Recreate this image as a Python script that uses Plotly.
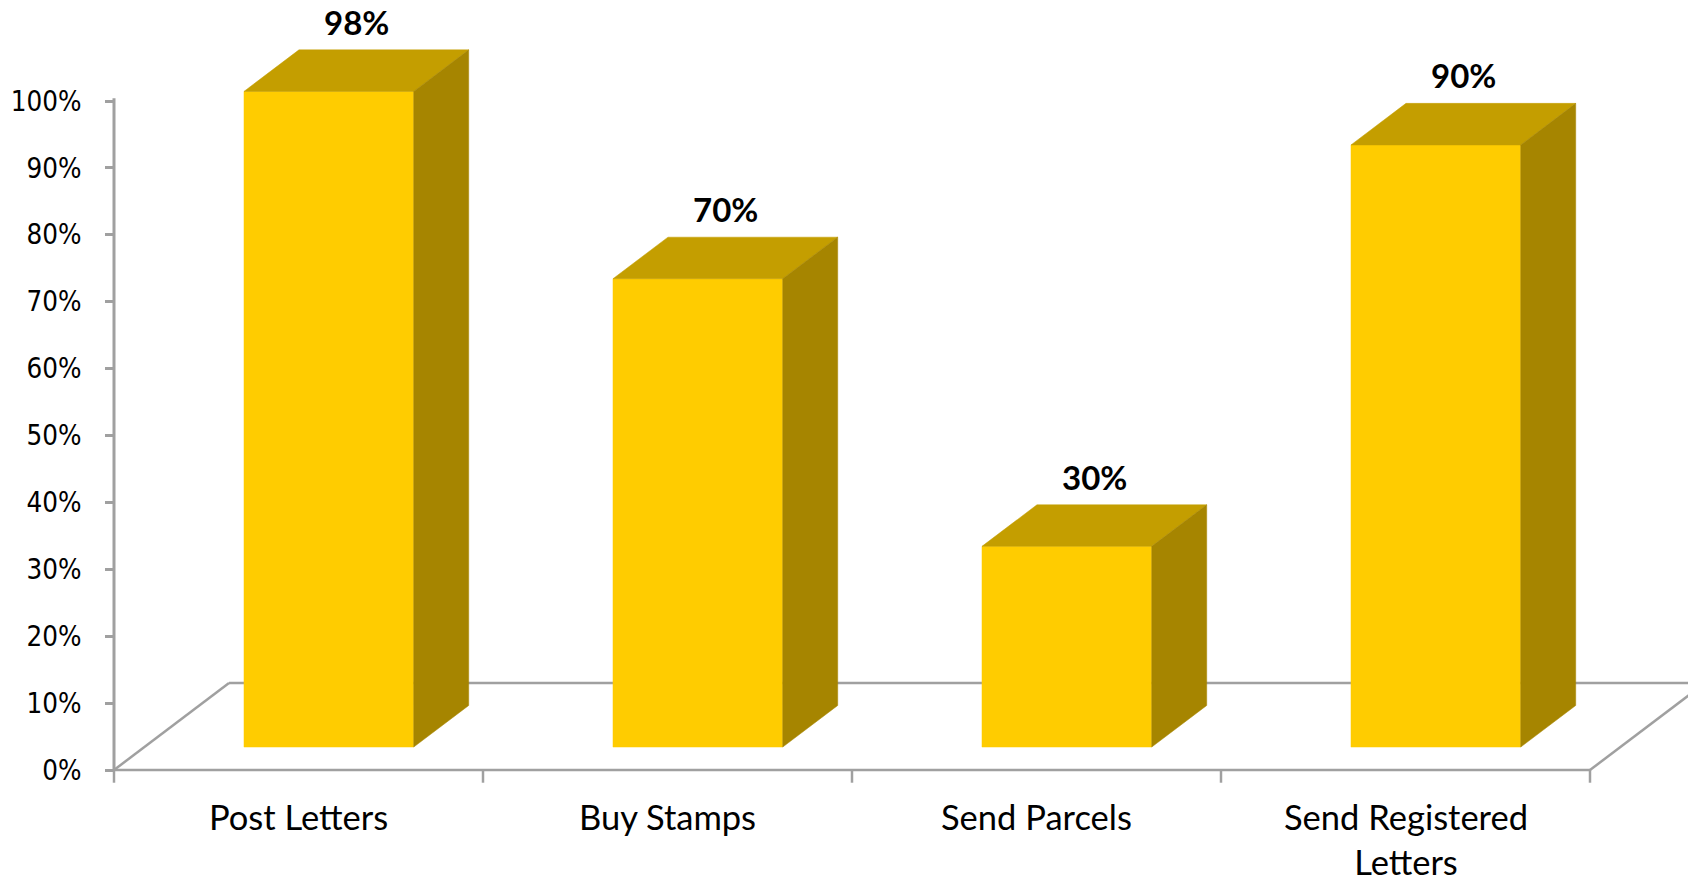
import plotly.graph_objects as go

# --- data -------------------------------------------------------------
categories = ["Post Letters", "Buy Stamps", "Send Parcels", "Send Registered<br>Letters"]
values = [98, 70, 30, 90]                 # percent
value_labels = ["98%", "70%", "30%", "90%"]
y_tick_values = [0, 10, 20, 30, 40, 50, 60, 70, 80, 90, 100]
y_tick_labels = ["0%", "10%", "20%", "30%", "40%", "50%", "60%", "70%", "80%", "90%", "100%"]

# --- pseudo-3D geometry (in axis units) -------------------------------
DX, DY = 0.3117, 13.0      # offset of the back floor edge relative to the front edge
BAR_W = 0.46               # bar width as fraction of a category slot
F0, F1 = 0.264, 0.742      # front / back depth of each bar (fraction of floor depth)

FRONT = "#FFCC00"
TOP = "#C49E00"
SIDE = "#A68500"
LINE = "#A0A0A0"

n = len(categories)
fig = go.Figure()

def seg(xs, ys, width=2.5, color=LINE):
    fig.add_trace(go.Scatter(x=xs, y=ys, mode="lines", hoverinfo="skip",
                             line=dict(color=color, width=width), showlegend=False))

# floor: front edge, back edge and the two side diagonals
seg([0, n], [0, 0])
seg([DX, n + DX], [DY, DY])
seg([0, DX], [0, DY])
seg([n, n + DX], [0, DY])
# value axis line and category tick marks
seg([0, 0], [0, 100.4], width=3)
for i in range(n + 1):
    seg([i, i], [0, -1.9], width=2.5)

def poly(xs, ys, color):
    fig.add_trace(go.Scatter(x=xs + [xs[0]], y=ys + [ys[0]], mode="lines", fill="toself",
                             fillcolor=color, line=dict(color=color, width=0.5),
                             hoverinfo="skip", showlegend=False))

for i, v in enumerate(values):
    c = i + 0.5
    xl = c - BAR_W / 2 + DX * F0
    xr = c + BAR_W / 2 + DX * F0
    yb = DY * F0
    yt = yb + v
    ddx = DX * (F1 - F0)
    ddy = DY * (F1 - F0)
    # front face
    poly([xl, xr, xr, xl], [yb, yb, yt, yt], FRONT)
    # top face
    poly([xl, xr, xr + ddx, xl + ddx], [yt, yt, yt + ddy, yt + ddy], TOP)
    # right side face
    poly([xr, xr + ddx, xr + ddx, xr], [yb, yb + ddy, yt + ddy, yt], SIDE)
    # value label above the top face
    fig.add_annotation(x=c + DX * (F0 + F1) / 2, y=yt + ddy, text=f"<b>{value_labels[i]}</b>",
                       showarrow=False, yanchor="bottom", yshift=6,
                       font=dict(family="Lato", size=33, color="#000000"))

# category labels under the floor
for i, cat in enumerate(categories):
    fig.add_annotation(x=i + 0.5, y=-3.6, text=cat, showarrow=False, yanchor="top",
                       font=dict(family="Lato", size=34.5, color="#000000"))

W, H = 1688, 883
ML = 100
AX_PX = 114          # pixel position of the value axis
CAT_PX = 369         # pixel width of one category slot
ZERO_PX = 770        # pixel row of 0%
PX_PER_UNIT = 6.69   # pixels per percent

fig.update_layout(
    width=W, height=H,
    margin=dict(l=ML, r=0, t=0, b=0),
    paper_bgcolor="white", plot_bgcolor="white",
    showlegend=False,
    xaxis=dict(visible=False, range=[-(AX_PX - ML) / CAT_PX, (W - AX_PX) / CAT_PX],
               fixedrange=True),
    yaxis=dict(range=[-(H - ZERO_PX) / PX_PER_UNIT, ZERO_PX / PX_PER_UNIT],
               tickvals=y_tick_values, ticktext=y_tick_labels,
               showgrid=False, zeroline=False, showline=False,
               ticks="outside", ticklen=9, tickwidth=2.5, tickcolor=LINE,
               ticklabelstandoff=18,
               anchor="free", position=(AX_PX - ML) / (W - ML),
               tickfont=dict(family="DejaVu Sans Condensed, DejaVu Sans", size=27.5, color="#000000"),
               fixedrange=True),
)

fig.write_html("out.html")
